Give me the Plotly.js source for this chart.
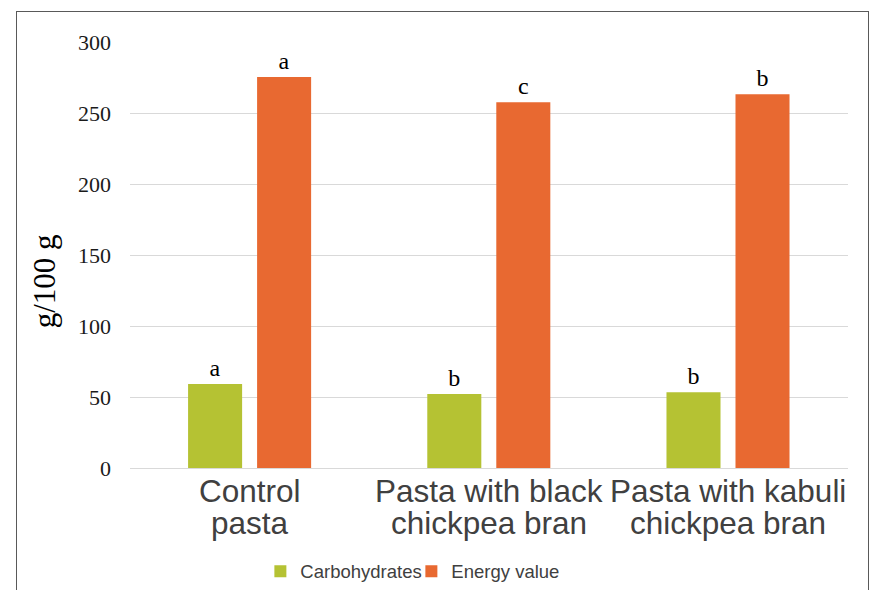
<!DOCTYPE html>
<html>
<head>
<meta charset="utf-8">
<script src="https://cdn.plot.ly/plotly-3.0.1.min.js"></script>
<style>
html,body{margin:0;padding:0;background:#fff;}
#wrap{position:relative;width:879px;height:590px;overflow:hidden;}
#chart{position:absolute;left:0;top:0;width:879px;height:590px;}
#frame{position:absolute;left:16px;top:11px;width:853px;height:620px;border:1px solid #595959;pointer-events:none;box-sizing:border-box;}
</style>
</head>
<body>
<div id="wrap"><div id="chart"></div><div id="frame"></div></div>
<script>
const categories = ["Control pasta", "Pasta with black chickpea bran", "Pasta with kabuli chickpea bran"];
const labelLine1 = ["Control", "Pasta with black", "Pasta with kabuli"];
const labelLine2 = ["pasta", "chickpea bran", "chickpea bran"];
const seriesNames = ["Carbohydrates", "Energy value"];
const carbohydrates = [59.2, 52.1, 53.4];
const energyValue = [275.3, 257.6, 263.2];
const carbLetters = ["a", "b", "b"];
const energyLetters = ["a", "c", "b"];
const yTicks = [0, 50, 100, 150, 200, 250, 300];
const yTitle = "g/100 g";

const letterFont = {family: "Liberation Serif, Times New Roman, serif", size: 24, color: "#000000"};
const catFont = {family: "Liberation Sans, Arial, sans-serif", size: 31.5, color: "#404040"};

const traces = [
  {type: "bar", name: seriesNames[0], x: categories, y: carbohydrates,
   marker: {color: "#B5C233"}, text: carbLetters, textposition: "outside",
   textfont: letterFont, cliponaxis: false, hoverinfo: "y"},
  {type: "bar", name: seriesNames[1], x: categories, y: energyValue,
   marker: {color: "#E86931"}, text: energyLetters, textposition: "outside",
   textfont: letterFont, cliponaxis: false, hoverinfo: "y"}
];

const annotations = [];
categories.forEach((c, i) => {
  annotations.push({x: c, xref: "x", y: 0, yref: "paper", yanchor: "top", xanchor: "center",
    yshift: -3, showarrow: false, text: labelLine1[i], font: catFont});
  annotations.push({x: c, xref: "x", y: 0, yref: "paper", yanchor: "top", xanchor: "center",
    yshift: -35, showarrow: false, text: labelLine2[i], font: catFont});
});
annotations.push({x: -0.118, xref: "paper", y: 0.439, yref: "paper", xanchor: "center", yanchor: "middle",
  textangle: -90, showarrow: false, text: yTitle,
  font: {family: "Liberation Serif, Times New Roman, serif", size: 31, color: "#000000"}});

const layout = {
  width: 879, height: 590,
  margin: {l: 130, r: 31, t: 42, b: 122},
  paper_bgcolor: "rgba(0,0,0,0)", plot_bgcolor: "rgba(0,0,0,0)",
  barmode: "group", bargap: 0.423, bargroupgap: 0.217,
  showlegend: true,
  legend: {orientation: "h", xref: "container", yref: "container", x: 0.468, xanchor: "center",
    y: 0.031, yanchor: "middle",
    font: {family: "Liberation Sans, Arial, sans-serif", size: 18.5, color: "#404040"},
    itemwidth: 30, tracegroupgap: 0, entrywidth: 106},
  xaxis: {showticklabels: false, showgrid: false, zeroline: false, showline: false, ticks: ""},
  yaxis: {range: [0, 300], tickvals: yTicks, ticktext: yTicks.map(String),
    showgrid: true, gridcolor: "#D9D9D9", gridwidth: 1, zeroline: true, zerolinecolor: "#D9D9D9",
    zerolinewidth: 1, showline: false, ticks: "", ticklabelstandoff: 18,
    tickfont: {family: "Liberation Serif, Times New Roman, serif", size: 22, color: "#1a1a1a"}},
  annotations: annotations
};

Plotly.newPlot("chart", traces, layout, {displayModeBar: false, staticPlot: true});
</script>
</body>
</html>
